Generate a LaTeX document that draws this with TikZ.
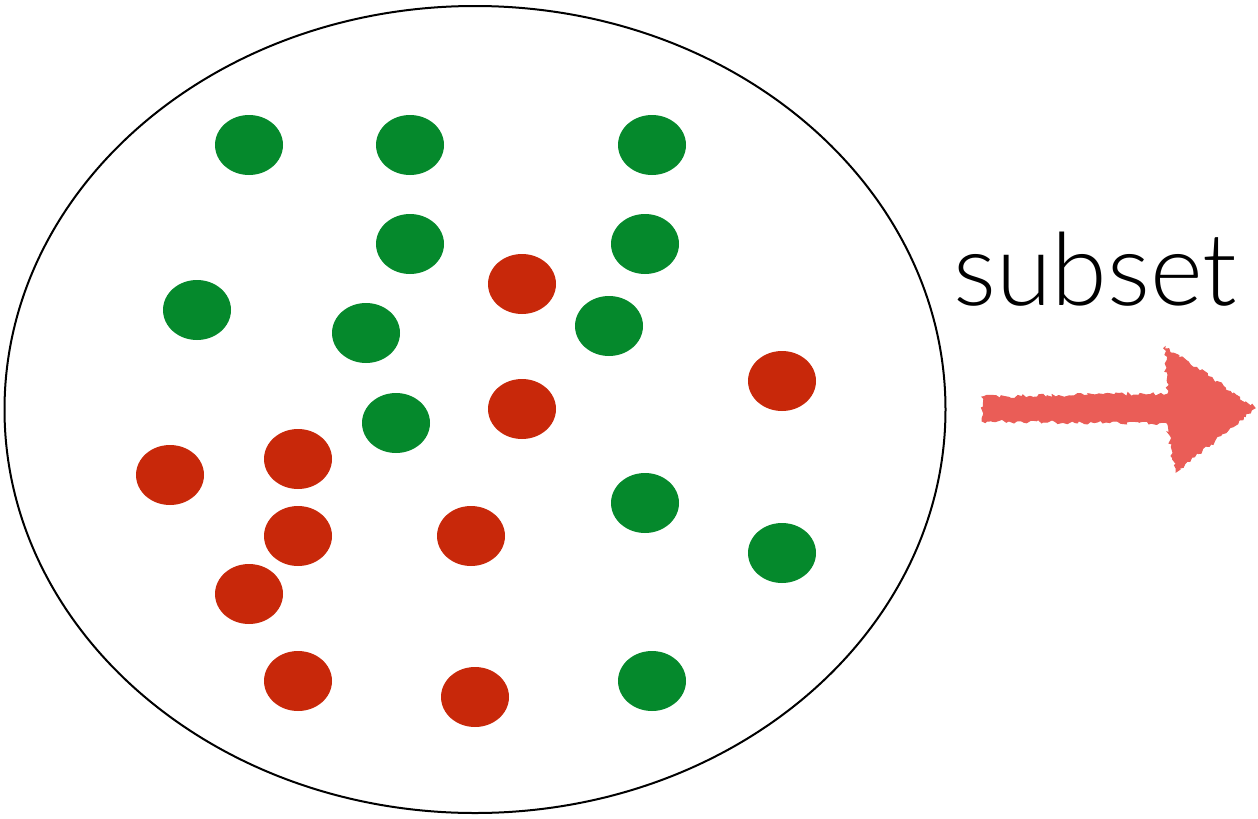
\documentclass[tikz,border=0pt]{standalone}
\usepackage{fontspec}
\setmainfont{TeX Gyre Heros}
\newfontfamily\lightfont{Lato}[UprightFont=* Light]
\usetikzlibrary{decorations.pathmorphing}
\definecolor{dotgreen}{HTML}{05892C}
\definecolor{dotred}{HTML}{C8280A}
\definecolor{arrowred}{HTML}{EA5D57}
\tikzset{
  gdot/.style={fill=dotgreen},
  rdot/.style={fill=dotred},
  rough/.style={fill=arrowred, draw=arrowred, line width=1pt,
    decorate, decoration={random steps, segment length=3pt, amplitude=2pt}},
}
\begin{document}
\begin{tikzpicture}[x=1pt,y=-1pt]
\useasboundingbox (0,0) rectangle (1258,819);
% outer set
\draw[line width=2pt] (475,409.5) ellipse [x radius=470.5, y radius=403.5];
% green dots
\foreach \p [count=\i] in {(249,145),(410,145),(652,145),(410,244),(645,244),(197,310),(366,333),(609,326),(396,423),(645,503),(782,553),(652,681)}
  \fill[gdot] \p ellipse [x radius=34, y radius=30];
% red dots
\foreach \p [count=\i] in {(522,284),(782,381),(522,409),(170,475),(298,459),(298,536),(471,536),(249,594),(298,681),(475,697)}
  \fill[rdot] \p ellipse [x radius=34, y radius=30];
% label
\node[anchor=base west, inner sep=0pt, font=\lightfont\fontsize{101}{101}\selectfont] (lbl) at (953,305) {subset};
% hand-drawn arrow
\path[rough] (982,397) -- (1168,394) -- (1165,347) -- (1255,408) -- (1176,472) -- (1167,423) -- (982,421) -- cycle;
\end{tikzpicture}
\end{document}
